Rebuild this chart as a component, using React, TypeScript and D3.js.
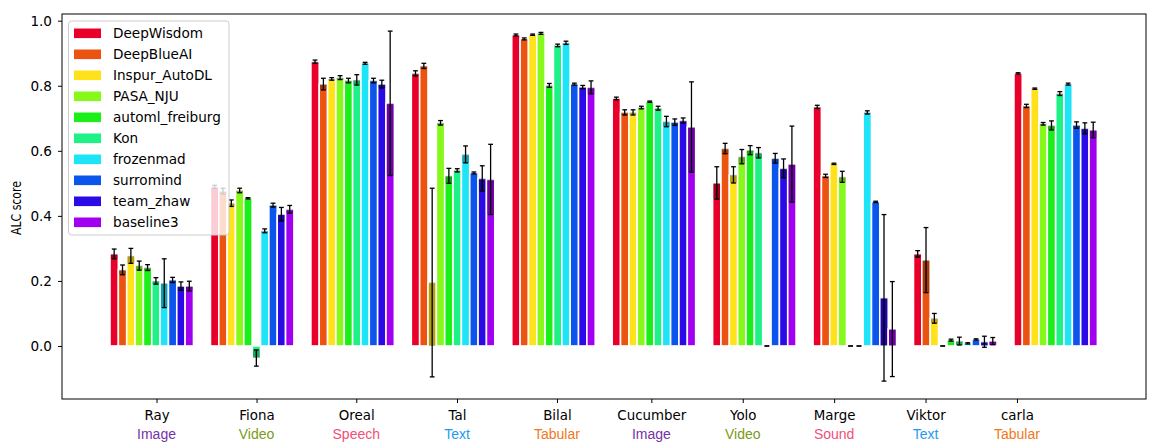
import React, { useEffect, useRef } from 'react';
import * as d3 from 'd3';

const datasets = ['Ray', 'Fiona', 'Oreal', 'Tal', 'Bilal', 'Cucumber', 'Yolo', 'Marge', 'Viktor', 'carla'];
const domains = ['Image', 'Video', 'Speech', 'Text', 'Tabular', 'Image', 'Video', 'Sound', 'Text', 'Tabular'];
// tick values (in group units) as they sit in the original figure
const tickAt = [0.463, 1.459, 2.452, 3.455, 4.45, 5.39, 6.3, 7.21, 8.12, 9.03];

const teams = ['DeepWisdom', 'DeepBlueAI', 'Inspur_AutoDL', 'PASA_NJU', 'automl_freiburg', 'Kon', 'frozenmad', 'surromind', 'team_zhaw', 'baseline3'];

const DeepWisdom = [0.283, 0.489, 0.874, 0.838, 0.956, 0.761, 0.501, 0.735, 0.283, 0.838];
const DeepWisdomErr = [0.015, 0.005, 0.005, 0.008, 0.003, 0.004, 0.05, 0.005, 0.01, 0.002];
const DeepBlueAI = [0.234, 0.476, 0.805, 0.861, 0.944, 0.718, 0.607, 0.523, 0.264, 0.738];
const DeepBlueAIErr = [0.015, 0.009, 0.018, 0.008, 0.003, 0.008, 0.016, 0.005, 0.1, 0.005];
const Inspur = [0.277, 0.439, 0.821, 0.195, 0.957, 0.718, 0.526, 0.56, 0.085, 0.791];
const InspurErr = [0.023, 0.01, 0.004, 0.29, 0.002, 0.008, 0.025, 0.002, 0.015, 0.002];
const PASA = [0.247, 0.478, 0.825, 0.686, 0.961, 0.733, 0.582, 0.52, 0, 0.683];
const PASAErr = [0.014, 0.007, 0.006, 0.007, 0.003, 0.004, 0.022, 0.017, 0, 0.004];
const automl = [0.241, 0.454, 0.816, 0.523, 0.801, 0.751, 0.602, 0, 0.018, 0.678];
const automlErr = [0.009, 0.002, 0.007, 0.023, 0.006, 0.002, 0.014, 0, 0.003, 0.014];
const Kon = [0.2, -0.037, 0.818, 0.54, 0.924, 0.731, 0.594, 0, 0.015, 0.776];
const KonErr = [0.01, 0.025, 0.016, 0.005, 0.004, 0.006, 0.016, 0, 0.012, 0.006];
const frozenmad = [0.193, 0.354, 0.869, 0.589, 0.932, 0.69, 0, 0.718, 0.008, 0.805];
const frozenmadErr = [0.075, 0.006, 0.003, 0.026, 0.005, 0.016, 0, 0.005, 0.002, 0.003];
const surromind = [0.203, 0.433, 0.816, 0.532, 0.805, 0.688, 0.577, 0.443, 0.02, 0.679];
const surromindErr = [0.008, 0.006, 0.007, 0.003, 0.003, 0.01, 0.015, 0.002, 0.002, 0.01];
const teamZhaw = [0.184, 0.405, 0.805, 0.515, 0.796, 0.693, 0.546, 0.148, 0.013, 0.669];
const teamZhawErr = [0.013, 0.021, 0.012, 0.039, 0.005, 0.008, 0.029, 0.256, 0.017, 0.017];
const baseline3 = [0.184, 0.42, 0.746, 0.512, 0.795, 0.673, 0.559, 0.052, 0.015, 0.664];
const baseline3Err = [0.015, 0.012, 0.222, 0.108, 0.02, 0.139, 0.117, 0.146, 0.011, 0.024];

const values = [DeepWisdom, DeepBlueAI, Inspur, PASA, automl, Kon, frozenmad, surromind, teamZhaw, baseline3];
const errors = [DeepWisdomErr, DeepBlueAIErr, InspurErr, PASAErr, automlErr, KonErr, frozenmadErr, surromindErr, teamZhawErr, baseline3Err];

const yTicks = [0, 0.2, 0.4, 0.6, 0.8, 1.0];

const colors = ['#e8002a', '#ec5210', '#ffe21a', '#86f81a', '#1aef1a', '#1ef286', '#1ee4f8', '#0b55ec', '#2a0ae6', '#a000ef'];
const domainColors: Record<string, string> = {
  Image: '#7433a6',
  Video: '#7d9a18',
  Speech: '#f0507a',
  Sound: '#f0507a',
  Text: '#1e9bf0',
  Tabular: '#f07820',
};

const W = 1154;
const H = 444;
const FONT = 'DejaVu Sans, sans-serif';

export default function App() {
  const svgRef = useRef<SVGSVGElement>(null);

  useEffect(() => {
    if (!svgRef.current) return;
    const svg = d3.select(svgRef.current);
    svg.selectAll('*').remove();

    const left = 62, right = 1146, top = 14, bottom = 399;
    const barW = 0.0831;

    const x = d3.scaleLinear().domain([-0.478, 10.315]).range([left, right]);
    const y = d3.scaleLinear().domain([-0.163, 1.0206]).range([bottom, top]);

    svg.append('rect').attr('width', W).attr('height', H).attr('fill', '#fff');

    // bars
    const g = svg.append('g');
    values.forEach((series, k) => {
      series.forEach((v, i) => {
        const e = errors[k][i];
        const x0 = x(i + k * barW);
        const x1 = x(i + (k + 1) * barW);
        g.append('rect')
          .attr('x', x0)
          .attr('width', x1 - x0)
          .attr('y', y(Math.max(0, v)))
          .attr('height', Math.abs(y(v) - y(0)))
          .attr('fill', colors[k])
          .attr('stroke', '#fff')
          .attr('stroke-width', 1.6);

        // darker band where the error range overlaps the bar
        if (e > 0 && v !== 0) {
          const inner = v > 0 ? Math.max(0, v - e) : Math.min(0, v + e);
          g.append('rect')
            .attr('x', x0 + 0.8)
            .attr('width', x1 - x0 - 1.6)
            .attr('y', y(Math.max(v, inner)))
            .attr('height', Math.abs(y(v) - y(inner)))
            .attr('fill', '#000')
            .attr('opacity', 0.3);
        }
      });
    });

    // error bars
    values.forEach((series, k) => {
      series.forEach((v, i) => {
        const e = errors[k][i];
        const cx = x(i + (k + 0.5) * barW);
        const eb = g.append('g').attr('stroke', '#000').attr('stroke-width', 1.3);
        eb.append('line').attr('x1', cx).attr('x2', cx).attr('y1', y(v - e)).attr('y2', y(v + e));
        [v - e, v + e].forEach((c) => {
          eb.append('line').attr('x1', cx - 2.4).attr('x2', cx + 2.4).attr('y1', y(c)).attr('y2', y(c));
        });
      });
    });

    // y axis
    const yAxis = svg.append('g')
      .attr('transform', `translate(${left},0)`)
      .call(d3.axisLeft(y).tickValues(yTicks).tickFormat(d3.format('.1f')).tickSize(4).tickPadding(6));
    yAxis.select('.domain').remove();
    yAxis.selectAll('text').style('font-family', FONT).style('font-size', '13.6px').attr('fill', '#000');
    yAxis.selectAll('line').attr('stroke', '#000');

    // x axis
    const xAxis = svg.append('g')
      .attr('transform', `translate(0,${bottom})`)
      .call(d3.axisBottom(x).tickValues(tickAt).tickFormat((_, i) => datasets[i]).tickSize(4));
    xAxis.select('.domain').remove();
    xAxis.selectAll('line').attr('stroke', '#000');
    xAxis.selectAll('text')
      .attr('y', 21)
      .attr('dy', null)
      .style('font-family', FONT)
      .style('font-size', '13.4px')
      .attr('fill', '#000');

    svg.append('g')
      .selectAll('text')
      .data(domains)
      .enter()
      .append('text')
      .attr('x', (_, i) => x(tickAt[i]))
      .attr('y', 439)
      .attr('text-anchor', 'middle')
      .style('font-family', 'Liberation Sans, Arial, sans-serif')
      .style('font-size', '14px')
      .attr('fill', (d) => domainColors[d])
      .text((d) => d);

    // frame
    svg.append('rect')
      .attr('x', left).attr('y', top)
      .attr('width', right - left).attr('height', bottom - top)
      .attr('fill', 'none').attr('stroke', '#000').attr('stroke-width', 1);

    // y label
    svg.append('text')
      .attr('transform', 'translate(21,208) rotate(-90)')
      .attr('text-anchor', 'middle')
      .attr('textLength', 54)
      .attr('lengthAdjust', 'spacingAndGlyphs')
      .style('font-family', FONT)
      .style('font-size', '14px')
      .text('ALC score');

    // legend
    const lg = svg.append('g');
    lg.append('rect')
      .attr('x', 68.5).attr('y', 21)
      .attr('width', 160.5).attr('height', 214)
      .attr('rx', 3)
      .attr('fill', '#fff').attr('fill-opacity', 0.8)
      .attr('stroke', '#ccc');
    teams.forEach((t, k) => {
      const cy = 33.3 + 21 * k;
      lg.append('rect')
        .attr('x', 74).attr('y', cy - 4.8)
        .attr('width', 27).attr('height', 9.6)
        .attr('fill', colors[k]);
      lg.append('text')
        .attr('x', 113).attr('y', cy)
        .attr('dy', '0.35em')
        .style('font-family', FONT)
        .style('font-size', '13.6px')
        .text(t);
    });
  }, []);

  return (
    <svg
      ref={svgRef}
      width={W}
      height={H}
      style={{ position: 'absolute', left: 0, top: 0, display: 'block' }}
    />
  );
}
